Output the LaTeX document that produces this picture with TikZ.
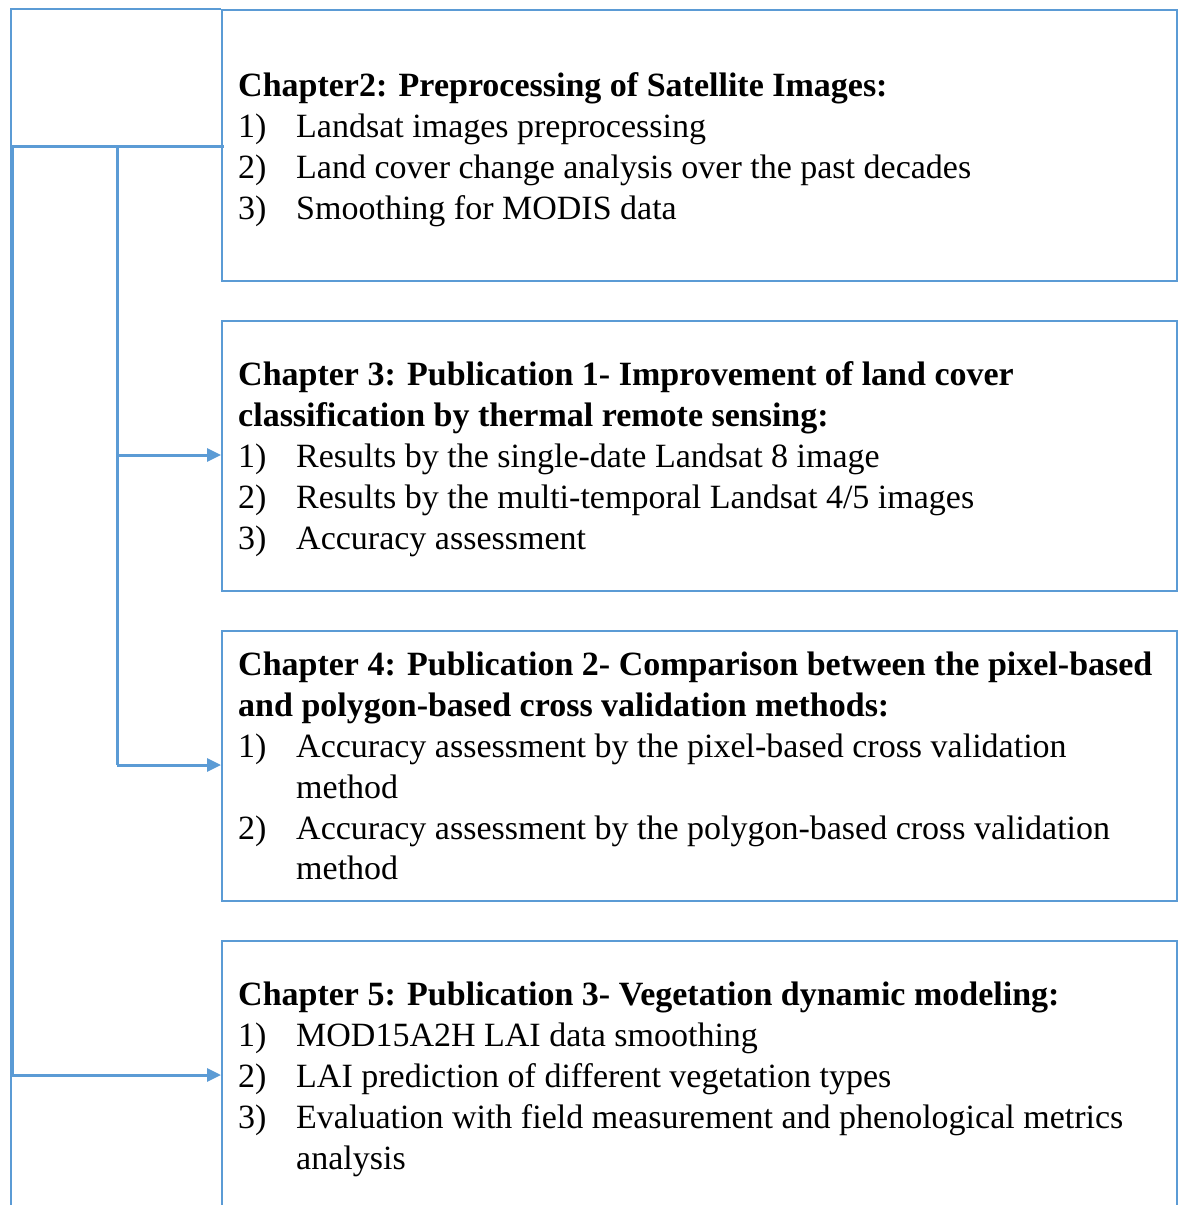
\documentclass[tikz,border=0pt]{standalone}
\usepackage{fontspec}
\setmainfont{Liberation Serif}
\usetikzlibrary{arrows.meta}
\definecolor{lineblue}{RGB}{91,155,213}
\begin{document}
\begin{tikzpicture}[x=1pt,y=-1pt,
  chbox/.style={draw=lineblue,line width=2pt,anchor=north west,inner sep=0pt,minimum width=955pt},
  frameline/.style={draw=lineblue,line width=1.5pt},
  conn/.style={draw=lineblue,line width=3pt},
  arr/.style={conn,-{Triangle[length=14pt,width=13pt]}},
  txt/.style={anchor=base west,inner sep=0pt,font=\fontsize{34}{41}\selectfont},
  btxt/.style={txt,font=\fontsize{34}{41}\selectfont\bfseries}]
\useasboundingbox (0,0) rectangle (1179,1205);
% outer thin frame remnant
\coordinate (fb) at (11,1215);
\coordinate (ftl) at (11,9);
\coordinate (ftr) at (221,9);
\draw[frameline] (fb) -- (ftl) -- (ftr);
% boxes
\node[chbox,minimum height=271pt] (c2) at (221,9) {};
\node[chbox,minimum height=270pt] (c3) at (221,320) {};
\node[chbox,minimum height=270pt] (c4) at (221,630) {};
\node[chbox,minimum height=280pt] (c5) at (221,940) {};
% texts chapter 2
\node[btxt] (t2a) at (238,96) {Chapter2: Preprocessing of Satellite Images:};
\node[txt] (t2b) at (238,137) {1)};
\node[txt] (t2bb) at (296,137) {Landsat images preprocessing};
\node[txt] (t2c) at (238,178) {2)};
\node[txt] (t2cc) at (296,178) {Land cover change analysis over the past decades};
\node[txt] (t2d) at (238,219) {3)};
\node[txt] (t2dd) at (296,219) {Smoothing for MODIS data};
% chapter 3
\node[btxt] (t3a) at (238,385) {Chapter 3: Publication 1- Improvement of land cover};
\node[btxt] (t3b) at (238,426) {classification by thermal remote sensing:};
\node[txt] (t3c) at (238,467) {1)};
\node[txt] (t3cc) at (296,467) {Results by the single-date Landsat 8 image};
\node[txt] (t3d) at (238,508) {2)};
\node[txt] (t3dd) at (296,508) {Results by the multi-temporal Landsat 4/5 images};
\node[txt] (t3e) at (238,549) {3)};
\node[txt] (t3ee) at (296,549) {Accuracy assessment};
% chapter 4
\node[btxt] (t4a) at (238,675) {Chapter 4: Publication 2- Comparison between the pixel-based};
\node[btxt] (t4b) at (238,716) {and polygon-based cross validation methods:};
\node[txt] (t4c) at (238,757) {1)};
\node[txt] (t4cc) at (296,757) {Accuracy assessment by the pixel-based cross validation};
\node[txt] (t4d) at (296,798) {method};
\node[txt] (t4e) at (238,839) {2)};
\node[txt] (t4ee) at (296,839) {Accuracy assessment by the polygon-based cross validation};
\node[txt] (t4f) at (296,879) {method};
% chapter 5
\node[btxt] (t5a) at (238,1005) {Chapter 5: Publication 3- Vegetation dynamic modeling:};
\node[txt] (t5b) at (238,1046) {1)};
\node[txt] (t5bb) at (296,1046) {MOD15A2H LAI data smoothing};
\node[txt] (t5c) at (238,1087) {2)};
\node[txt] (t5cc) at (296,1087) {LAI prediction of different vegetation types};
\node[txt] (t5d) at (238,1128) {3)};
\node[txt] (t5dd) at (296,1128) {Evaluation with field measurement and phenological metrics};
\node[txt] (t5e) at (296,1169) {analysis};
% connectors
\coordinate (h0) at (11,146);
\coordinate (h1) at (224,146);
\coordinate (ja) at (117,146);
\coordinate (jb) at (117,455);
\coordinate (jc) at (117,765);
\coordinate (la) at (12,146);
\coordinate (lb) at (12,1075);
\draw[conn] (h0) -- (h1);
\draw[conn] (ja) -- (jc);
\draw[conn] (la) -- (lb);
\draw[arr] (jb) -- (jb -| c3.west);
\draw[arr] (jc) -- (jc -| c4.west);
\draw[arr] (lb) -- (lb -| c5.west);
\end{tikzpicture}
\end{document}
